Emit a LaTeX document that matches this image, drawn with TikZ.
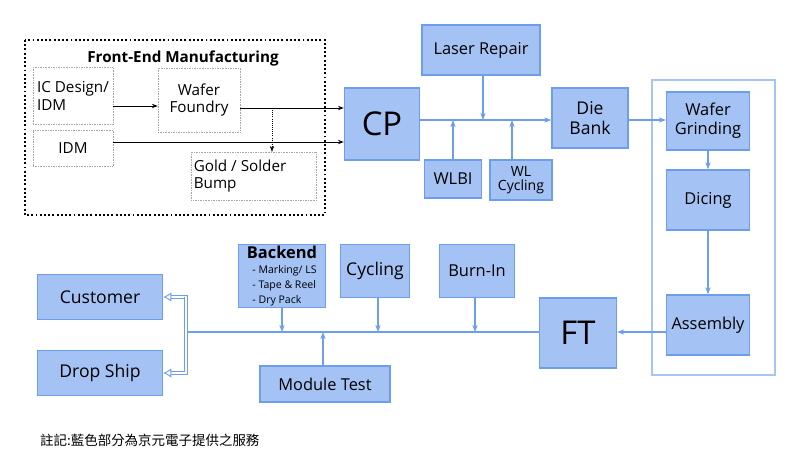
\documentclass[tikz,border=0pt]{standalone}
\usepackage{fontspec}
\setmainfont{Open Sans}
\newfontfamily\cjk{Noto Sans CJK TC}
\usetikzlibrary{positioning,arrows.meta}
\definecolor{boxfill}{HTML}{A4C2F4}
\definecolor{boxline}{HTML}{6D9EEB}
\begin{document}
\begin{tikzpicture}[x=0.03cm,y=-0.03cm,
bluenode/.style={draw=boxline, fill=boxfill, line width=1.2pt, align=center, inner sep=1pt, font=\fontsize{14}{16}\selectfont},
greynode/.style={draw=gray!70, densely dotted, align=left, inner sep=2pt, font=\fontsize{13}{15}\selectfont},
blackarrow/.style={->, >={Stealth[length=5pt]}, thick},
bluearrow/.style={->, >={Stealth[length=6pt]}, boxline, line width=1.2pt},
busline/.style={boxline, line width=1.2pt},
]
\useasboundingbox (0,0) rectangle (800,462);

% Front-end frame
\draw[line width=1.6pt, dotted] (25,40) rectangle (325,215);
\node[font=\bfseries\fontsize{13}{15}\selectfont] (fe) at (183,58) {Front-End Manufacturing};
\node[greynode, minimum width=80*0.03cm, minimum height=57*0.03cm] (icd) at (73,96) {IC Design/\\IDM};
\node[greynode, minimum width=80*0.03cm, minimum height=36*0.03cm, align=center] (idm) at (73,148) {IDM};
\node[greynode, minimum width=82*0.03cm, minimum height=64*0.03cm, align=center] (wafer) at (199,100) {Wafer\\Foundry};
\node[greynode, minimum width=118*0.03cm, minimum height=48*0.03cm] (bump) at (254,176) {Gold / Solder\\Bump\phantom{Gold / Sold}};

% Blue process nodes
\node[bluenode, minimum width=75*0.03cm, minimum height=72*0.03cm, font=\fontsize{28}{30}\selectfont] (cp) at (382,124) {CP};
\node[bluenode, minimum width=118*0.03cm, minimum height=50*0.03cm] (laser) at (481,50) {Laser Repair};
\node[bluenode, minimum width=57*0.03cm, minimum height=38*0.03cm] (wlbi) at (453,179) {WLBI};
\node[bluenode, minimum width=62*0.03cm, minimum height=40*0.03cm, font=\fontsize{12}{12}\selectfont] (wlc) at (521,180) {WL\\Cycling};
\node[bluenode, minimum width=76*0.03cm, minimum height=60*0.03cm, font=\fontsize{15}{17}\selectfont] (diebank) at (590,118) {Die\\Bank};
\draw[boxline!60, line width=1.6pt] (652,80) rectangle (775,375);
\node[bluenode, minimum width=83*0.03cm, minimum height=58*0.03cm] (grind) at (708,121) {Wafer\\Grinding};
\node[bluenode, minimum width=83*0.03cm, minimum height=60*0.03cm] (dicing) at (708,200) {Dicing};
\node[bluenode, minimum width=83*0.03cm, minimum height=60*0.03cm] (assembly) at (708,325) {Assembly};
\node[bluenode, minimum width=77*0.03cm, minimum height=70*0.03cm, font=\fontsize{28}{30}\selectfont] (ft) at (578,333) {FT};
\node[bluenode, minimum width=75*0.03cm, minimum height=53*0.03cm] (burnin) at (477,271) {Burn-In};
\node[bluenode, minimum width=69*0.03cm, minimum height=53*0.03cm, font=\fontsize{15}{17}\selectfont] (cycling) at (375,271) {Cycling};
\node[bluenode, minimum width=87*0.03cm, minimum height=63*0.03cm, align=left] (backend) at (282,276) {{\bfseries Backend}\\[-3pt]{\fontsize{9}{10}\selectfont\ \ - Marking/ LS}\\[-3pt]{\fontsize{9}{10}\selectfont\ \ - Tape \& Reel}\\[-3pt]{\fontsize{9}{10}\selectfont\ \ - Dry Pack}};
\node[bluenode, minimum width=130*0.03cm, minimum height=36*0.03cm] (module) at (325,384) {Module Test};
\node[bluenode, minimum width=125*0.03cm, minimum height=45*0.03cm, font=\fontsize{15}{17}\selectfont] (customer) at (100,297) {Customer};
\node[bluenode, minimum width=125*0.03cm, minimum height=45*0.03cm, font=\fontsize{15}{17}\selectfont] (dropship) at (100,373) {Drop Ship};
\node[anchor=west, font=\cjk\fontsize{11.5}{13}\selectfont] (note) at (36,440) {註記:藍色部分為京元電子提供之服務};

% Coordinates for the buses
\coordinate (tap) at (272,108);
\coordinate (top1) at (453,120);
\coordinate (top2) at (483,120);
\coordinate (top3) at (512,120);
\coordinate (bot0) at (186,332);
\coordinate (bot1) at (282,332);
\coordinate (bot2) at (323,332);
\coordinate (bot3) at (378,332);
\coordinate (bot4) at (475,332);
\coordinate (ship1) at (186,297);
\coordinate (ship2) at (186,373);

% Front-end arrows
\draw[blackarrow] (icd.east |- 0,106) -- (wafer.west |- 0,106);
\draw[blackarrow] (wafer.east |- 0,108) -- (cp.west |- 0,108);
\draw[blackarrow] (idm.east |- 0,142) -- (cp.west |- 0,142);
\draw[blackarrow, densely dotted, thin] (tap) -- (tap |- bump.north);

% Top bus
\draw[bluearrow] (cp.east |- 0,120) -- (diebank.west |- 0,120);
\draw[bluearrow] (laser.south -| top2) -- (top2);
\draw[bluearrow] (wlbi.north -| top1) -- (top1);
\draw[bluearrow] (wlc.north -| top3) -- (top3);
\draw[bluearrow] (diebank.east |- 0,120) -- (grind.west |- 0,120);
\draw[bluearrow] (grind) -- (dicing);
\draw[bluearrow] (dicing) -- (assembly);
\draw[bluearrow] (assembly.west |- 0,332) -- (ft.east |- 0,332);

% Bottom bus
\draw[busline] (ft.west |- bot0) -- (bot0);
\draw[bluearrow] (backend.south -| bot1) -- (bot1);
\draw[bluearrow] (cycling.south -| bot3) -- (bot3);
\draw[bluearrow] (burnin.south -| bot4) -- (bot4);
\draw[bluearrow] (module.north -| bot2) -- (bot2);
\draw[boxline, line width=0.8pt, double=white, double distance=1.5pt, -{Latex[open,length=7pt,width=8pt]}] (ship2) -- (ship1) -- (customer.east);
\draw[boxline, line width=0.8pt, double=white, double distance=1.5pt, -{Latex[open,length=7pt,width=8pt]}] (ship1) -- (ship2) -- (dropship.east);
\end{tikzpicture}
\end{document}
